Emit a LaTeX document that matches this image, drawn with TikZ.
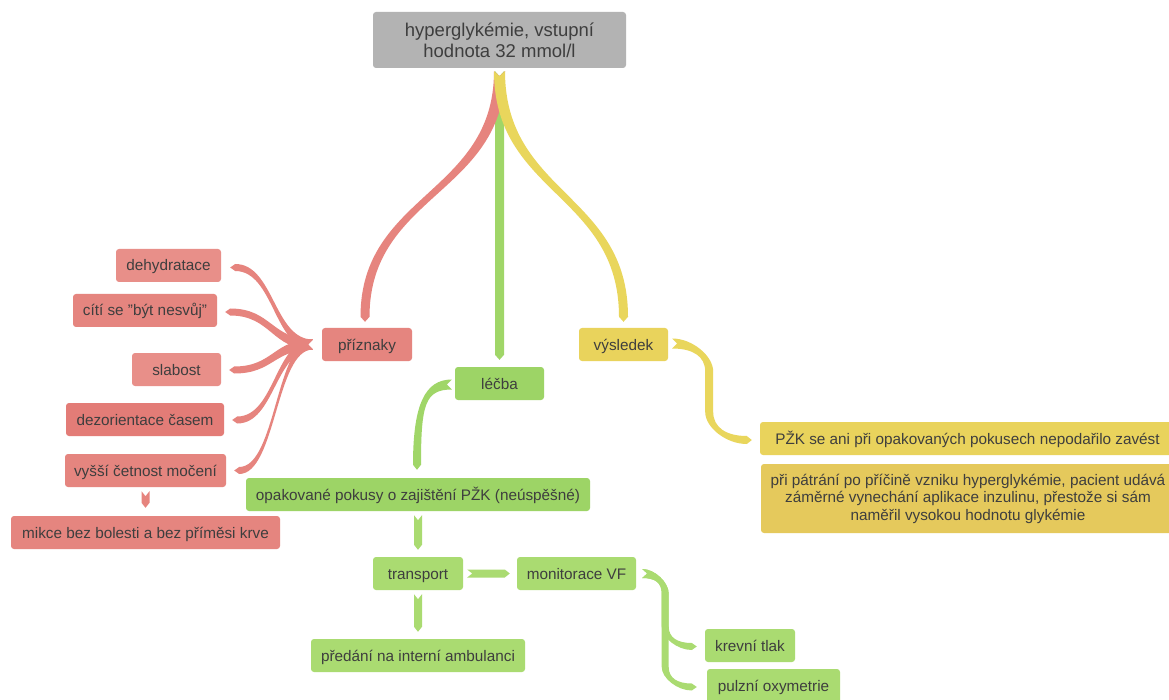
\documentclass[tikz,border=0pt]{standalone}
\usepackage{fontspec}
\setmainfont{Liberation Sans}
\usetikzlibrary{calc}

\definecolor{txt}{RGB}{62,62,62}
\definecolor{greyb}{RGB}{179,179,179}
\definecolor{redA}{RGB}{229,133,127}
\definecolor{redB}{RGB}{232,143,137}
\definecolor{redC}{RGB}{227,124,119}
\definecolor{redL}{RGB}{230,132,126}
\definecolor{grnA}{RGB}{157,212,102}
\definecolor{grnB}{RGB}{170,219,113}
\definecolor{grnL}{RGB}{160,214,104}
\definecolor{yelA}{RGB}{233,211,92}
\definecolor{yelB}{RGB}{229,201,92}
\definecolor{yelL}{RGB}{233,214,92}

% Tapered ribbon: colour, P0, P1, P2, P3 (cubic), half width at start, at end.
% Notched at the start, pointed at the end.
\newcommand\cribbon[7]{%
  \fill[#1] ($(#2)!#6!90:(#3)$) .. controls ($(#3)!#6!-90:(#2)$) and ($(#4)!#7!90:(#5)$) .. ($(#5)!#7!-90:(#4)$)
    -- ($(#5)!-5pt!(#4)$)
    -- ($(#5)!#7!90:(#4)$) .. controls ($(#4)!#7!-90:(#5)$) and ($(#3)!#6!90:(#2)$) .. ($(#2)!#6!-90:(#3)$)
    -- ($(#2)!5pt!(#3)$) -- cycle;}
% vertical S-shaped link
\newcommand\vlink[5]{%
  \coordinate (vm) at ($(#2)!0.5!(#3)$);
  \coordinate (v1) at (#2 |- vm);
  \coordinate (v2) at (#3 |- vm);
  \cribbon{#1}{#2}{v1}{v2}{#3}{#4}{#5}}
% horizontal S-shaped link
\newcommand\hlink[5]{%
  \coordinate (hm) at ($(#2)!0.5!(#3)$);
  \coordinate (h1) at (hm |- #2);
  \coordinate (h2) at (hm |- #3);
  \cribbon{#1}{#2}{h1}{h2}{#3}{#4}{#5}}
% three-piece ribbon through r0 ... r9 (turn, straight run, turn)
\newcommand\tribbon[3]{%
  \fill[#1] ($(r0)!#2!90:(r1)$)
    .. controls ($(r1)!#2!-90:(r0)$) and ($(r2)!#3!90:(r3)$) .. ($(r3)!#3!-90:(r2)$)
    .. controls ($(r4)!#3!-90:(r3)$) and ($(r5)!#3!90:(r6)$) .. ($(r6)!#3!-90:(r5)$)
    .. controls ($(r7)!#3!-90:(r6)$) and ($(r8)!#3!90:(r9)$) .. ($(r9)!#3!-90:(r8)$)
    -- ($(r9)!-5pt!(r8)$)
    -- ($(r9)!#3!90:(r8)$)
    .. controls ($(r8)!#3!-90:(r9)$) and ($(r7)!#3!90:(r6)$) .. ($(r6)!#3!90:(r5)$)
    .. controls ($(r5)!#3!-90:(r6)$) and ($(r4)!#3!90:(r3)$) .. ($(r3)!#3!90:(r2)$)
    .. controls ($(r2)!#3!-90:(r3)$) and ($(r1)!#2!90:(r0)$) .. ($(r0)!#2!-90:(r1)$)
    -- ($(r0)!5pt!(r1)$) -- cycle;}
% elbow link: colour, start, end, horizontal run to the vertical part, turn height, half widths
\newcommand\elbowlink[7]{%
  \coordinate (r0) at (#2);
  \coordinate (r3) at ($(#2)+(#4,#5)$);
  \coordinate (r1) at ($(r0)!0.55!(r0 -| r3)$);
  \coordinate (r2) at ($(r3)!0.55!(r0 -| r3)$);
  \coordinate (r9) at (#3);
  \coordinate (r6) at ($(r3 |- r9)+(0,-#5)$);
  \coordinate (r4) at ($(r3)!0.33!(r6)$);
  \coordinate (r5) at ($(r3)!0.67!(r6)$);
  \coordinate (r7) at ($(r6)!0.55!(r6 |- r9)$);
  \coordinate (r8) at ($(r9)!0.55!(r6 |- r9)$);
  \tribbon{#1}{#6}{#7}}

\tikzset{
  box/.style={rounded corners=3pt, inner sep=0pt, align=center, text=txt,
    minimum height=33pt, text height=11pt, text depth=0pt,
    font=\fontsize{15.3}{18}\selectfont},
  gbox/.style={box, fill=greyb, font=\fontsize{18.5}{21}\selectfont},
  rbox/.style={box, fill=redA},
  gnbox/.style={box, fill=grnB},
  ybox/.style={box, fill=yelA},
}

\begin{document}
\begin{tikzpicture}[x=1pt,y=-1pt]
\fill[white] (0,0) rectangle (1169,700);
\clip (0,0) rectangle (1169,700);

% root
\node[gbox, minimum width=253pt, minimum height=56pt, text height=36pt] (top) at (499.5,40) {hyperglykémie, vstupní\\hodnota 32 mmol/l};

% symptoms
\node[rbox, minimum width=90pt] (prizn) at (367,344.5) {příznaky};
\node[rbox, fill=redB, minimum width=105pt] (dehyd) at (168.5,265.5) {dehydratace};
\node[rbox, minimum width=144pt] (citi) at (145,310.5) {cítí se "být nesvůj"};
\node[rbox, fill=redB, minimum width=89pt] (slab) at (176.5,369.5) {slabost};
\node[rbox, fill=redC, minimum width=158pt] (dezo) at (145,419.5) {dezorientace časem};
\node[rbox, minimum width=161pt] (vyssi) at (145.5,470.5) {vyšší četnost močení};
\node[rbox, minimum width=269pt] (mikce) at (145.5,532.5) {mikce bez bolesti a bez příměsi krve};

% treatment
\node[gnbox, fill=grnA, minimum width=89pt] (lecba) at (499.5,383.5) {léčba};
\node[gnbox, fill=grnA, minimum width=344pt] (opak) at (418,494.5) {opakované pokusy o zajištění PŽK (neúspěšné)};
\node[gnbox, minimum width=90pt] (transp) at (418,573.5) {transport};
\node[gnbox, minimum width=119pt] (monit) at (576.5,573.5) {monitorace VF};
\node[gnbox, minimum width=214pt] (predani) at (418,655.5) {předání na interní ambulanci};
\node[gnbox, minimum width=90pt] (krevni) at (750,645.5) {krevní tlak};
\node[gnbox, minimum width=133pt, minimum height=34pt] (pulzni) at (773.5,686) {pulzní oxymetrie};

% outcome
\node[ybox, minimum width=89pt] (vysl) at (623.5,344.5) {výsledek};
\node[ybox, minimum width=415pt] (pzk) at (967.5,438.5) {PŽK se ani při opakovaných pokusech nepodařilo zavést};
\node[ybox, fill=yelB, minimum width=414pt, minimum height=69pt, text height=43pt,
      font=\fontsize{15.3}{17.5}\selectfont] (patrani) at (968,498.5)
  {při pátrání po příčině vzniku hyperglykémie, pacient udává\\záměrné vynechání aplikace inzulinu, přestože si sám\\naměřil vysokou hodnotu glykémie};

% ---- links from the root
\coordinate (t0) at ($(top.south)+(0,3)$);
\coordinate (tR) at ($(prizn.north)+(-2,-11)$);
\coordinate (tG) at ($(lecba.north)+(0,-12)$);
\coordinate (tY) at ($(vysl.north)+(0,-11)$);
\vlink{grnL}{t0}{tG}{4.5pt}{4.5pt}
\vlink{redL}{t0}{tR}{5.5pt}{4.5pt}
\vlink{yelL}{t0}{tY}{5.5pt}{4.5pt}

% ---- symptom fan
\coordinate (f0) at ($(prizn.west)+(-9,0)$);
\coordinate (fD) at ($(dehyd.east)+(14,2)$);
\coordinate (fC) at ($(citi.east)+(13,1.5)$);
\coordinate (fS) at ($(slab.east)+(13,0.5)$);
\coordinate (fZ) at ($(dezo.east)+(13,0.5)$);
\coordinate (fV) at ($(vyssi.east)+(13,0)$);
\hlink{redL}{f0}{fD}{5pt}{3.5pt}
\hlink{redL}{f0}{fC}{5pt}{3.5pt}
\hlink{redL}{f0}{fS}{5pt}{3.5pt}
\hlink{redL}{f0}{fZ}{5pt}{3.5pt}
\hlink{redL}{f0}{fV}{5pt}{3.5pt}
\coordinate (mS) at ($(vyssi.south)+(0,4)$);
\coordinate (mE) at ($(mikce.north)+(0,-13)$);
\vlink{redL}{mS}{mE}{4pt}{4pt}

% ---- treatment chain
\coordinate (lS) at ($(lecba.west)+(-3,1)$);
\coordinate (lE) at ($(opak.north)+(-1,-13)$);
\coordinate (l1) at ($(lS -| lE)+(8,0)$);
\coordinate (l2) at ($(lE |- lS)+(0,20)$);
\cribbon{grnL}{lS}{l1}{l2}{lE}{5pt}{4pt}
\coordinate (oS) at ($(opak.south)+(0,4)$);
\coordinate (oE) at ($(transp.north)+(0,-12)$);
\vlink{grnB}{oS}{oE}{4pt}{4pt}
\coordinate (pS) at ($(transp.south)+(0,4)$);
\coordinate (pE) at ($(predani.north)+(0,-12)$);
\vlink{grnB}{pS}{pE}{4pt}{4pt}
\coordinate (mnS) at ($(transp.east)+(4,0)$);
\coordinate (mnE) at ($(monit.west)+(-12,0)$);
\hlink{grnB}{mnS}{mnE}{4pt}{4pt}
\coordinate (kS) at ($(monit.east)+(6,0)$);
\coordinate (kE) at ($(krevni.west)+(-13,1)$);
\coordinate (kP) at ($(pulzni.west)+(-15,1)$);
\elbowlink{grnB}{kS}{kE}{23}{20}{4.5pt}{3.5pt}
\elbowlink{grnB}{kS}{kP}{23}{20}{4.5pt}{3.5pt}

% ---- outcome
\coordinate (yS) at ($(vysl.east)+(4,-1)$);
\coordinate (yE) at ($(pzk.west)+(-13,1.5)$);
\elbowlink{yelL}{yS}{yE}{37}{28}{5pt}{4pt}
\end{tikzpicture}
\end{document}
